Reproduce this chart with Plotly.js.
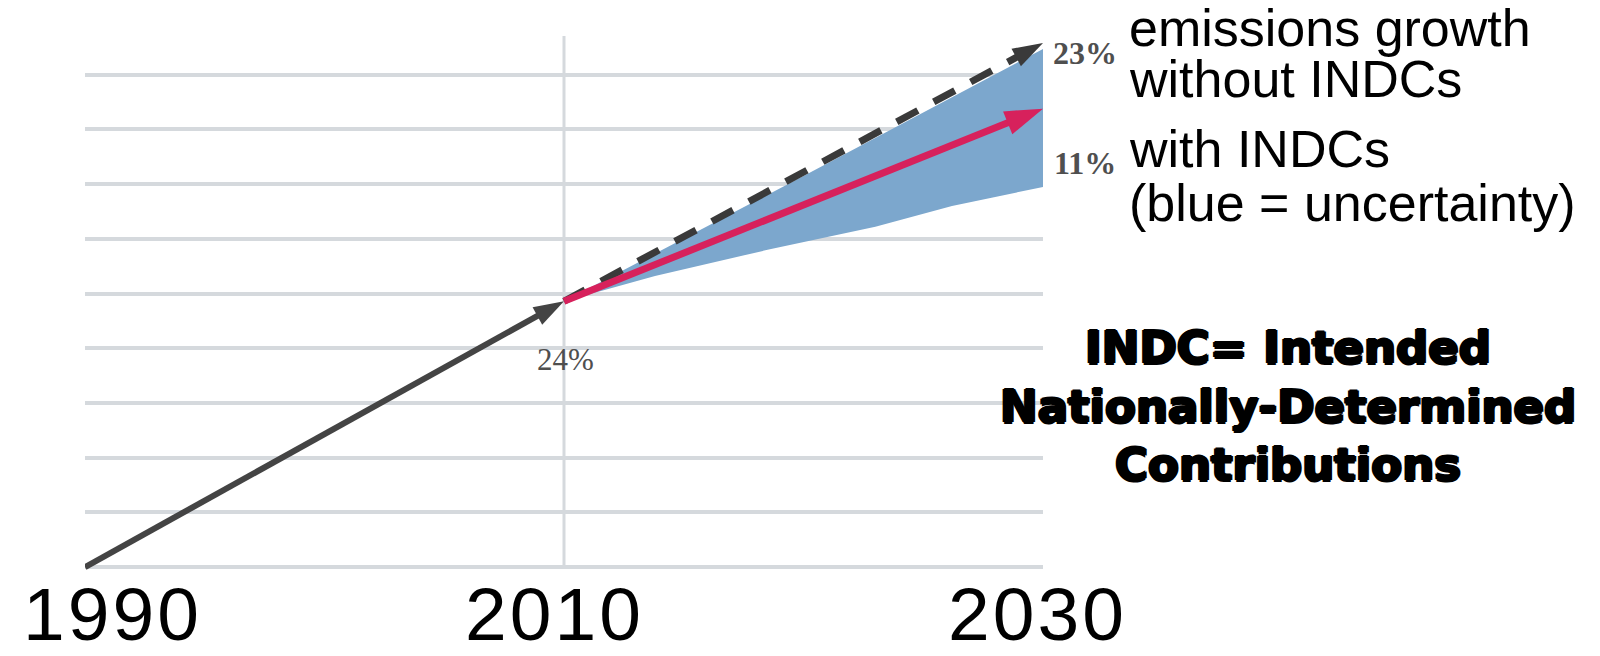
<!DOCTYPE html>
<html>
<head>
<meta charset="utf-8">
<script src="https://cdn.plot.ly/plotly-3.0.1.min.js"></script>
<style>
  html, body { margin: 0; padding: 0; background: #ffffff; }
  #chart { width: 1600px; height: 656px; }
  g.annotation[data-index="0"] text,
  g.annotation[data-index="1"] text,
  g.annotation[data-index="2"] text { letter-spacing: 3px; }
</style>
</head>
<body>
<div id="chart"></div>
<script>
// ---- data (y in grid-step units, 0 = 1990 level) ----
const years = [1990, 2010, 2030];
const yearLabels = ['1990', '2010', '2030'];

const historyX = [1990, 2010];
const historyY = [0, 4.86];

const noIndcX = [2010, 2030];
const noIndcY = [4.86, 9.58];

const indcX = [2010, 2030];
const indcY = [4.86, 8.38];

const bandUpperX = [2010, 2020, 2030];
const bandUpperY = [4.86, 7.15, 9.47];
const bandLowerX = [2010, 2013.8, 2018.5, 2023, 2026.2, 2030];
const bandLowerY = [4.86, 5.32, 5.80, 6.22, 6.60, 6.95];

const gridLevels = [0, 1, 2, 3, 4, 5, 6, 7, 8, 9];
const verticalTop = 9.71;

const pctLabels = ['24%', '23%', '11%'];
const sideLines = ['emissions growth', 'without INDCs', 'with INDCs', '(blue = uncertainty)'];
const noteLines = ['INDC= Intended', 'Nationally-Determined', 'Contributions'];

// ---- layout geometry ----
const ML = 85, MR = 557, MT = 31, MB = 78;
const W = 1600, H = 656;
const PW = W - ML - MR, PH = H - MT - MB;
const px2paperX = p => (p - ML) / PW;
const px2paperY = p => (H - MB - p) / PH;

// band polygon built from upper + reversed lower
const bandX = bandUpperX.concat(bandLowerX.slice().reverse());
const bandY = bandUpperY.concat(bandLowerY.slice().reverse());

const arrowMarker = (n, size, color) => ({
  symbol: 'arrow',
  angleref: 'previous',
  size: Array.from({length: n}, (_, i) => i === n - 1 ? size : 0),
  color: color,
  opacity: 1,
  line: {width: 0}
});

const traces = [
  {
    x: bandX, y: bandY, type: 'scatter', mode: 'lines',
    fill: 'toself', fillcolor: 'rgb(124,167,205)',
    line: {width: 0, color: 'rgba(0,0,0,0)'},
    hoverinfo: 'skip', showlegend: false
  },
  {
    x: noIndcX, y: noIndcY, type: 'scatter', mode: 'lines+markers',
    line: {color: '#3a3a3a', width: 7, dash: '24px,18px'},
    marker: arrowMarker(noIndcX.length, 32, '#3a3a3a'),
    cliponaxis: false, showlegend: false
  },
  {
    x: historyX, y: historyY, type: 'scatter', mode: 'lines+markers',
    line: {color: '#444444', width: 6},
    marker: arrowMarker(historyX.length, 32, '#444444'),
    cliponaxis: false, showlegend: false
  },
  {
    x: indcX, y: indcY, type: 'scatter', mode: 'lines+markers',
    line: {color: '#d7215c', width: 7},
    marker: arrowMarker(indcX.length, 40, '#d7215c'),
    cliponaxis: false, showlegend: false
  }
];

const annotations = [];
// year labels
const yearShift = [27, -10, -6];
years.forEach((yr, i) => {
  annotations.push({
    x: yr, xref: 'x', xshift: yearShift[i],
    y: px2paperY(614), yref: 'paper',
    text: yearLabels[i], showarrow: false,
    xanchor: 'center', yanchor: 'middle',
    font: {family: 'Liberation Sans, Arial, sans-serif', size: 75, color: '#000'}
  });
});
// percentage labels
const pctPos = [[565, 360], [1085, 53], [1085, 163]];
const pctWeight = ['normal', 'bold', 'bold'];
const pctSize = [31, 32, 32];
pctLabels.forEach((t, i) => {
  annotations.push({
    x: px2paperX(pctPos[i][0]), xref: 'paper',
    y: px2paperY(pctPos[i][1]), yref: 'paper',
    text: t, showarrow: false, xanchor: 'center', yanchor: 'middle',
    font: {family: 'Liberation Serif, DejaVu Serif, serif', size: pctSize[i],
           weight: pctWeight[i], color: '#4f4f4f'}
  });
});
// side description lines
const sideY = [28, 79, 149, 203];
sideLines.forEach((t, i) => {
  annotations.push({
    x: px2paperX(1127), xref: 'paper',
    y: px2paperY(sideY[i]), yref: 'paper',
    text: t, showarrow: false, xanchor: 'left', yanchor: 'middle',
    font: {family: 'Liberation Sans, Arial, sans-serif', size: 52, color: '#000'}
  });
});
// bold note
const noteY = [347, 406, 464];
noteLines.forEach((t, i) => {
  annotations.push({
    x: px2paperX(1288), xref: 'paper',
    y: px2paperY(noteY[i]), yref: 'paper',
    text: t, showarrow: false, xanchor: 'center', yanchor: 'middle',
    font: {family: 'DejaVu Sans, sans-serif', size: 45, weight: 'bold', color: '#000',
           shadow: '1.5px 0 0 #000, -1.5px 0 0 #000, 0 1.5px 0 #000, 0 -1.5px 0 #000'}
  });
});

const layout = {
  width: W, height: H,
  margin: {l: ML, r: MR, t: MT, b: MB, pad: 0},
  paper_bgcolor: '#ffffff', plot_bgcolor: '#ffffff',
  showlegend: false,
  xaxis: {
    range: [years[0], years[2]], showgrid: false, zeroline: false,
    showticklabels: false, ticks: '', showline: false, fixedrange: true
  },
  yaxis: {
    range: [-0.2, 9.8], tickmode: 'array', tickvals: gridLevels,
    showgrid: true, gridcolor: '#d5d9dd', gridwidth: 4,
    zeroline: false, showticklabels: false, ticks: '', showline: false, fixedrange: true
  },
  shapes: [{
    type: 'line', xref: 'x', yref: 'y', layer: 'below',
    x0: years[1], x1: years[1], y0: gridLevels[0], y1: verticalTop,
    line: {color: '#d5d9dd', width: 3}
  }],
  annotations: annotations
};

Plotly.newPlot('chart', traces, layout, {staticPlot: true, displayModeBar: false});
</script>
</body>
</html>
